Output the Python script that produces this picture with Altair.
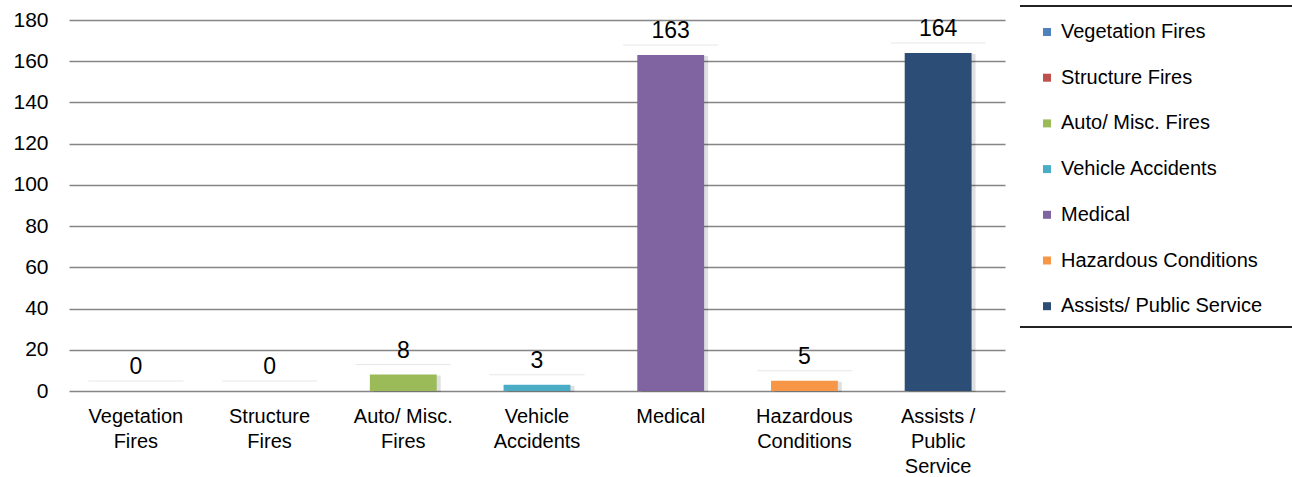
import altair as alt
import pandas as pd

categories = ["Vegetation Fires", "Structure Fires", "Auto/  Misc. Fires", "Vehicle Accidents",
              "Medical", "Hazardous Conditions", "Assists/ Public Service"]
x_labels = ["Vegetation|Fires", "Structure|Fires", "Auto/  Misc.|Fires", "Vehicle|Accidents",
            "Medical", "Hazardous|Conditions", "Assists /|Public|Service"]
values = [0, 0, 8, 3, 163, 5, 164]
colors = ["#4F81BD", "#C0504D", "#9BBB59", "#4BACC6", "#8064A2", "#F79646", "#2C4D75"]
y_ticks = [0, 20, 40, 60, 80, 100, 120, 140, 160, 180]

df = pd.DataFrame({"cat": categories, "xl": x_labels, "value": values})

FONT = "Liberation Sans"
W, H = 943, 371

x = alt.X("xl:N", sort=x_labels, title=None,
          scale=alt.Scale(range=[7, W], paddingInner=0.5, paddingOuter=0.25),
          axis=alt.Axis(labelExpr="split(datum.label, '|')", labelAngle=0, labelFontSize=20,
                        labelLineHeight=25, labelPadding=15, ticks=False, domain=False,
                        labelColor="#000", labelFont=FONT, labelBaseline="top"))
y = alt.Y("value:Q", title=None,
          scale=alt.Scale(domain=[0, 180], nice=False),
          axis=alt.Axis(values=y_ticks, grid=True, gridColor="#858585", gridWidth=1.3,
                        ticks=False, domain=False, labelFontSize=21, labelPadding=14,
                        labelColor="#000", labelFont=FONT))

base = alt.Chart(df)

shadow = base.mark_bar(color="#000", opacity=0.12, xOffset=4, yOffset=1).encode(x=x, y=y)

bars = base.mark_bar().encode(
    x=x, y=y,
    color=alt.Color("cat:N", sort=categories,
                    scale=alt.Scale(domain=categories, range=colors),
                    legend=alt.Legend(title=None, orient="none", legendX=975, legendY=2,
                                      symbolType="square", symbolSize=64, symbolStrokeWidth=0,
                                      labelFontSize=20, labelFont=FONT, labelColor="#000",
                                      rowPadding=25.7, labelOffset=4, padding=0,
                                      labelLimit=300)),
)

label_line = base.mark_tick(color="#dddddd", thickness=1, size=95, yOffset=-10).encode(x=x, y=y)

labels = base.mark_text(fontSize=23, font=FONT, color="#000", baseline="bottom", dy=-12).encode(
    x=x, y=y, text="value:Q")

top_rule = alt.Chart(df).mark_rule(color="#222", strokeWidth=2).encode(
    x=alt.value(958), x2=alt.value(1235), y=alt.value(-14))
bottom_rule = alt.Chart(df).mark_rule(color="#222", strokeWidth=2).encode(
    x=alt.value(958), x2=alt.value(1235), y=alt.value(307))

chart = alt.layer(shadow, bars, label_line, labels, top_rule, bottom_rule).properties(
    width=W, height=H,
    autosize=alt.AutoSizeParams(type="none"),
    padding={"left": 62, "top": 20, "right": 287, "bottom": 86},
).configure_view(stroke=None)

chart.save("out.html", embed_options={"renderer": "svg", "actions": False})
